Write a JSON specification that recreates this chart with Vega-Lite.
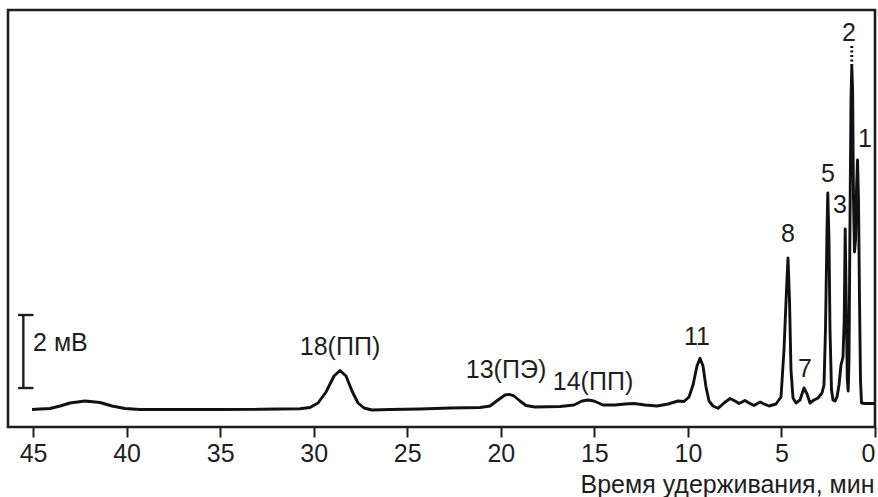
{
  "$schema": "https://vega.github.io/schema/vega-lite/v6.json",
  "width": 867,
  "height": 417,
  "autosize": {"type": "none"},
  "padding": {"left": 8, "top": 10, "right": 3, "bottom": 70},
  "background": "white",
  "config": {
    "view": {"stroke": "#1e1e1e", "strokeWidth": 2.6},
    "font": "Liberation Sans",
    "text": {"font": "Liberation Sans", "color": "#1e1e1e"}
  },
  "datasets": {
    "curve": [
      {"t": 45.056, "v": -0.041}, {"t": 44.628, "v": -0.027}, {"t": 44.094, "v": -0.014},
      {"t": 43.560, "v": 0.055}, {"t": 43.025, "v": 0.137}, {"t": 42.223, "v": 0.192},
      {"t": 41.422, "v": 0.151}, {"t": 40.780, "v": 0.055}, {"t": 40.085, "v": -0.014},
      {"t": 39.284, "v": -0.041}, {"t": 37.146, "v": -0.041}, {"t": 35.008, "v": -0.041},
      {"t": 32.870, "v": -0.036}, {"t": 30.732, "v": -0.022}, {"t": 30.198, "v": 0.014},
      {"t": 29.770, "v": 0.137}, {"t": 29.343, "v": 0.438}, {"t": 28.915, "v": 0.877},
      {"t": 28.594, "v": 1.027}, {"t": 28.274, "v": 0.877}, {"t": 27.953, "v": 0.466},
      {"t": 27.632, "v": 0.137}, {"t": 27.312, "v": 0.0}, {"t": 26.884, "v": -0.055},
      {"t": 25.922, "v": -0.041}, {"t": 24.319, "v": -0.027}, {"t": 22.715, "v": 0.0},
      {"t": 21.112, "v": 0.014}, {"t": 20.577, "v": 0.055}, {"t": 20.150, "v": 0.219},
      {"t": 19.775, "v": 0.356}, {"t": 19.562, "v": 0.375}, {"t": 19.295, "v": 0.329},
      {"t": 18.974, "v": 0.192}, {"t": 18.653, "v": 0.068}, {"t": 18.172, "v": 0.027},
      {"t": 16.836, "v": 0.041}, {"t": 16.088, "v": 0.082}, {"t": 15.660, "v": 0.192},
      {"t": 15.339, "v": 0.219}, {"t": 15.019, "v": 0.192}, {"t": 14.538, "v": 0.082},
      {"t": 13.896, "v": 0.082}, {"t": 13.362, "v": 0.110}, {"t": 12.881, "v": 0.123},
      {"t": 12.293, "v": 0.082}, {"t": 11.651, "v": 0.055}, {"t": 11.064, "v": 0.110},
      {"t": 10.529, "v": 0.192}, {"t": 10.208, "v": 0.178}, {"t": 9.941, "v": 0.301},
      {"t": 9.727, "v": 0.630}, {"t": 9.514, "v": 1.151}, {"t": 9.353, "v": 1.362},
      {"t": 9.193, "v": 1.151}, {"t": 9.033, "v": 0.575}, {"t": 8.872, "v": 0.192},
      {"t": 8.658, "v": 0.055}, {"t": 8.391, "v": -0.008}, {"t": 8.071, "v": 0.137},
      {"t": 7.750, "v": 0.260}, {"t": 7.483, "v": 0.192}, {"t": 7.269, "v": 0.123},
      {"t": 6.948, "v": 0.205}, {"t": 6.734, "v": 0.137}, {"t": 6.467, "v": 0.068},
      {"t": 6.146, "v": 0.164}, {"t": 5.933, "v": 0.110}, {"t": 5.665, "v": 0.055},
      {"t": 5.291, "v": 0.110}, {"t": 5.024, "v": 0.301}, {"t": 4.864, "v": 1.589},
      {"t": 4.730, "v": 3.233}, {"t": 4.650, "v": 4.110}, {"t": 4.570, "v": 2.959},
      {"t": 4.490, "v": 1.041}, {"t": 4.383, "v": 0.274}, {"t": 4.222, "v": 0.137},
      {"t": 4.009, "v": 0.219}, {"t": 3.795, "v": 0.548}, {"t": 3.634, "v": 0.384},
      {"t": 3.474, "v": 0.137}, {"t": 3.260, "v": 0.219}, {"t": 3.046, "v": 0.274},
      {"t": 2.833, "v": 0.411}, {"t": 2.726, "v": 0.630}, {"t": 2.646, "v": 2.137},
      {"t": 2.565, "v": 4.877}, {"t": 2.523, "v": 5.890}, {"t": 2.459, "v": 4.603},
      {"t": 2.405, "v": 2.137}, {"t": 2.325, "v": 0.493}, {"t": 2.245, "v": 0.219},
      {"t": 2.138, "v": 0.192}, {"t": 2.031, "v": 0.301}, {"t": 1.924, "v": 0.630},
      {"t": 1.817, "v": 1.178}, {"t": 1.710, "v": 1.397}, {"t": 1.646, "v": 2.411},
      {"t": 1.593, "v": 4.904}, {"t": 1.539, "v": 2.959}, {"t": 1.480, "v": 0.767},
      {"t": 1.432, "v": 0.466}, {"t": 1.390, "v": 1.315}, {"t": 1.336, "v": 5.151},
      {"t": 1.283, "v": 8.438}, {"t": 1.240, "v": 9.370}, {"t": 1.197, "v": 8.712},
      {"t": 1.149, "v": 5.699}, {"t": 1.096, "v": 4.274}, {"t": 1.042, "v": 4.603},
      {"t": 0.989, "v": 5.973}, {"t": 0.935, "v": 6.795}, {"t": 0.882, "v": 5.699},
      {"t": 0.828, "v": 2.959}, {"t": 0.775, "v": 0.767}, {"t": 0.722, "v": 0.137},
      {"t": 0.534, "v": 0.123}, {"t": 0.0, "v": 0.123}
    ],
    "labels": [
      {"label": "2", "t": 1.39, "v": 10.274},
      {"label": "1", "t": 0.534, "v": 7.37},
      {"label": "5", "t": 2.512, "v": 6.411},
      {"label": "3", "t": 1.871, "v": 5.562},
      {"label": "8", "t": 4.65, "v": 4.767},
      {"label": "7", "t": 3.741, "v": 1.068},
      {"label": "11", "t": 9.514, "v": 1.945},
      {"label": "14(ПП)", "t": 15.072, "v": 0.712},
      {"label": "13(ПЭ)", "t": 19.722, "v": 1.041},
      {"label": "18(ПП)", "t": 28.594, "v": 1.671}
    ]
  },
  "encoding": {
    "x": {
      "field": "t", "type": "quantitative",
      "scale": {"domain": [0, 46.34], "reverse": true, "nice": false, "zero": false},
      "axis": {
        "values": [0, 5, 10, 15, 20, 25, 30, 35, 40, 45],
        "title": "Время удерживания, мин",
        "grid": false, "domain": false,
        "tickSize": 10, "tickWidth": 2, "tickColor": "#1e1e1e",
        "labelFontSize": 25, "labelColor": "#1e1e1e", "labelPadding": 4,
        "labelFont": "Liberation Sans", "labelFlush": true,
        "titleFont": "Liberation Sans", "titleFontSize": 25, "titleFontWeight": "normal",
        "titleColor": "#1e1e1e", "titleX": 866, "titleY": 65,
        "titleAlign": "right", "titleBaseline": "alphabetic"
      }
    },
    "y": {
      "field": "v", "type": "quantitative",
      "scale": {"domain": [-0.5205, 10.904], "nice": false, "zero": false},
      "axis": null
    }
  },
  "layer": [
    {
      "data": {"name": "curve"},
      "mark": {"type": "line", "color": "#111111", "strokeWidth": 2.9, "strokeJoin": "round"}
    },
    {
      "data": {"values": [{"t": 1.24, "v": 9.37, "v2": 9.918}]},
      "mark": {"type": "rule", "color": "#111111", "strokeWidth": 3, "strokeDash": [2, 2.5]},
      "encoding": {"y2": {"field": "v2"}}
    },
    {
      "data": {"values": [{"t": 45.52, "v": 0.548, "v2": 2.548}]},
      "mark": {"type": "rule", "color": "#1e1e1e", "strokeWidth": 2.4},
      "encoding": {"y2": {"field": "v2"}}
    },
    {
      "data": {"values": [{"t": 45.8, "t2": 44.98, "v": 0.548}, {"t": 45.8, "t2": 44.98, "v": 2.548}]},
      "mark": {"type": "rule", "color": "#1e1e1e", "strokeWidth": 2.4},
      "encoding": {"x2": {"field": "t2"}}
    },
    {
      "data": {"values": [{"label": "2 мВ", "t": 45.0, "v": 1.781}]},
      "mark": {"type": "text", "align": "left", "baseline": "middle", "fontSize": 25, "dx": 0},
      "encoding": {"text": {"field": "label"}}
    },
    {
      "data": {"name": "labels"},
      "mark": {"type": "text", "align": "center", "baseline": "middle", "fontSize": 25},
      "encoding": {"text": {"field": "label"}}
    }
  ]
}
